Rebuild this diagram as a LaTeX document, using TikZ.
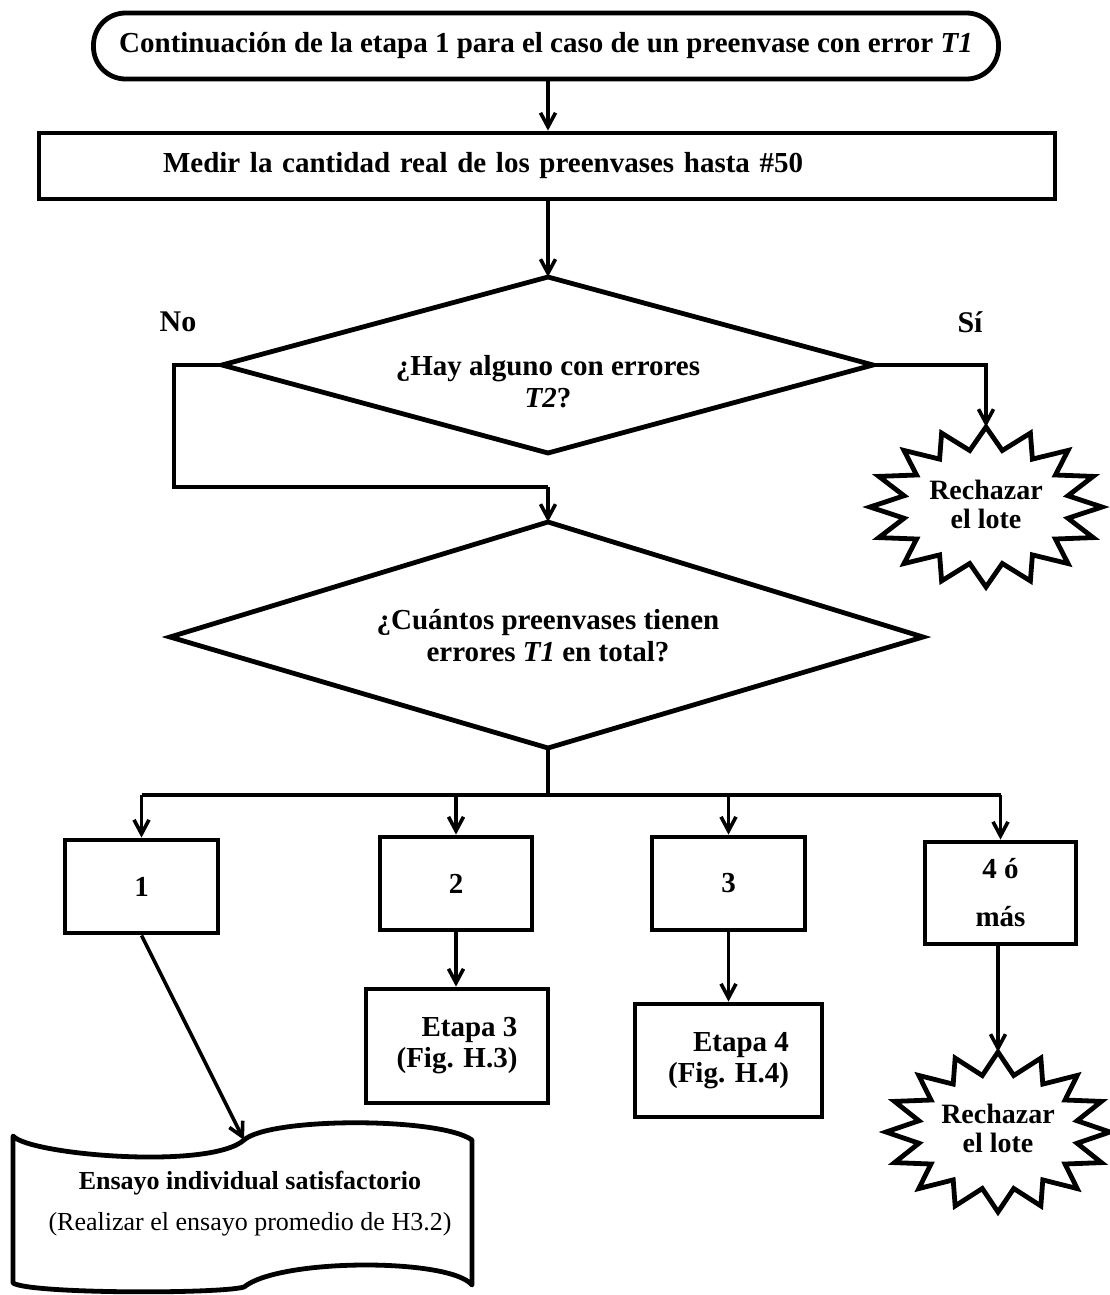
\documentclass[tikz,border=0pt]{standalone}
\usepackage{fontspec}
\setmainfont{Liberation Serif}
\usetikzlibrary{arrows.meta}
\newcommand\burstshape[4]{%
  \draw[shapeline] plot[samples at={0,1,...,31}] ({#1+#3*(0.86+0.14*cos(180*\x))*cos(90+11.25*\x)},{#2-#4*(0.86+0.14*cos(180*\x))*sin(90+11.25*\x)}) -- cycle;}
\begin{document}
\begin{tikzpicture}[x=0.5pt,y=-0.5pt,
  shapeline/.style={line width=2.4pt,line join=miter},
  conn/.style={line width=1.8pt},
  arr/.style={line width=1.8pt,-{Straight Barb[length=7pt,width=7.5pt]}},
  bf/.style={font=\fontsize{14.5}{16}\selectfont\bfseries,align=center,inner sep=0pt},
  box/.style={draw,shapeline,inner sep=0pt,font=\fontsize{14.5}{16}\selectfont\bfseries,align=center}]
\useasboundingbox (0,0) rectangle (1109,1295);
\coordinate (ax) at (548,0);
% top
\node[box,rounded corners=16pt,minimum width=452.5pt,minimum height=33pt] (top) at (546,46)
  {Continuación de la etapa 1 para el caso de un preenvase con error \textit{T1}};
\node[box,minimum width=508pt,minimum height=33pt,text width=384pt,inner xsep=62pt,align=left] (medir) at (547,166)
  {Medir la cantidad real de los preenvases hasta \#50};
\draw[arr] (top.south -| ax) -- (medir.north -| ax);
% diamond 1
\coordinate (d1t) at (548,277);
\coordinate (d1l) at (222,365);
\coordinate (d1r) at (873,365);
\coordinate (d1b) at (548,453);
\draw[shapeline] (d1t) -- (d1r) -- (d1b) -- (d1l) -- cycle;
\node[bf] (q1) at (548,382) {¿Hay alguno con errores\\\textit{T2}?};
\draw[arr] (medir.south -| ax) -- (d1t);
\node[bf,font=\fontsize{15}{18}\selectfont\bfseries] (no) at (178,322) {No};
\node[bf,font=\fontsize{15}{18}\selectfont\bfseries] (si) at (970,322) {Sí};
% star 1
\burstshape{986}{507}{116}{80}
\coordinate (s1t) at (986,427);
\node[bf,font=\fontsize{14}{14.5}\selectfont\bfseries] (s1) at (986,504) {Rechazar\\el lote};
\draw[arr] (d1r) -| (s1t);
% diamond 2
\coordinate (d2t) at (548,522);
\coordinate (d2l) at (170,637);
\coordinate (d2r) at (923,637);
\coordinate (d2b) at (548,748);
\draw[shapeline] (d2t) -- (d2r) -- (d2b) -- (d2l) -- cycle;
\node[bf] (q2) at (548,636) {¿Cuántos preenvases tienen\\errores \textit{T1} en total?};
\coordinate (j1) at (548,487);
\draw[conn] (d1l) -- ++(-48,0) |- (j1);
\draw[arr] (j1) -- (d2t);
% branch boxes
\node[box,minimum width=76.5pt,minimum height=46.5pt] (b1) at (141.5,886.5) {1};
\node[box,minimum width=76pt,minimum height=46.5pt] (b2) at (456,883.5) {2};
\node[box,minimum width=76.5pt,minimum height=46.5pt] (b3) at (728.5,883.5) {3};
\node[box,minimum width=75.5pt,minimum height=51pt,font=\fontsize{14.5}{24}\selectfont\bfseries] (b4) at (1000.5,893) {4 ó\\más};
\coordinate (bar) at (548,795);
\draw[conn] (d2b) -- (bar);
\draw[line width=2.2pt] (b1.north |- bar) -- (b4.north |- bar);
\foreach \b in {b1,b2,b3,b4} \draw[arr] (\b.north |- bar) -- (\b.north);
% etapa boxes
\node[box,minimum width=91pt,minimum height=57pt,align=right,font=\fontsize{14.5}{15.5}\selectfont\bfseries] (e3) at (457,1046) {Etapa 3\\(Fig. H.3)};
\node[box,minimum width=93.5pt,minimum height=56.5pt,align=right,font=\fontsize{14.5}{15.5}\selectfont\bfseries] (e4) at (728.5,1060.5) {Etapa 4\\(Fig. H.4)};
\draw[arr] (b2.south) -- (b2.south |- e3.north);
\draw[arr] (b3.south) -- (b3.south |- e4.north);
% star 2
\burstshape{998}{1132}{112}{80}
\coordinate (s2t) at (998,1052);
\node[bf,font=\fontsize{14}{14.5}\selectfont\bfseries] (s2) at (998,1128) {Rechazar\\el lote};
\draw[arr] (b4.south -| s2t) -- (s2t);
% tape / document
\coordinate (docin) at (244,1140);
\draw[shapeline,line join=round] (13,1136) .. controls (30,1155) and (210,1170) .. (docin)
  .. controls (270,1117) and (440,1117) .. (472,1140) -- (472,1285)
  .. controls (450,1258) and (280,1258) .. (244,1287)
  .. controls (220,1294) and (30,1294) .. (13,1283) -- cycle;
\node[font=\fontsize{13}{15}\selectfont\bfseries,inner sep=0pt] (doc) at (250,1183) {Ensayo individual satisfactorio};
\node[font=\fontsize{13}{15}\selectfont,inner sep=0pt] (doc2) at (250,1224) {(Realizar el ensayo promedio de H3.2)};
\draw[arr] (b1.south) -- (docin);
\end{tikzpicture}
\end{document}
